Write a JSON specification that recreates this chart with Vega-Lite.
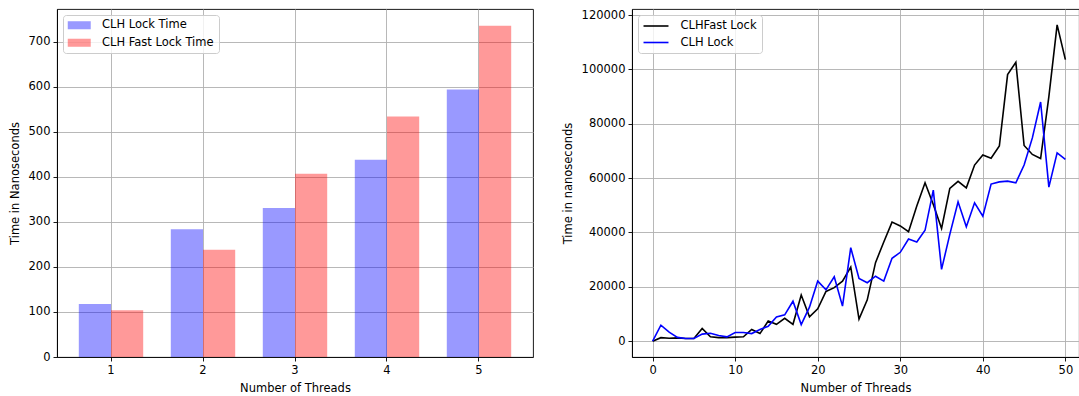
{
  "$schema": "https://vega.github.io/schema/vega-lite/v6.json",
  "background": "white",
  "padding": {"left": 8, "top": 8, "right": 0, "bottom": 0},
  "spacing": 99,
  "bounds": "flush",
  "resolve": {"scale": {"color": "independent"}, "legend": {"color": "independent"}},
  "config": {
    "font": "DejaVu Sans",
    "view": {"stroke": "black", "strokeWidth": 0.9},
    "axis": {
      "labelFont": "DejaVu Sans", "titleFont": "DejaVu Sans",
      "labelFontSize": 11.5, "titleFontSize": 11.5, "titleFontWeight": "normal",
      "labelColor": "black", "titleColor": "black",
      "tickColor": "black", "domainColor": "black", "domainWidth": 0.9,
      "tickSize": 4, "tickWidth": 0.9, "labelPadding": 3,
      "gridColor": "#b0b0b0", "gridWidth": 0.9, "gridOpacity": 1
    },
    "legend": {
      "orient": "top-left", "offset": 6, "padding": 4.5, "rowPadding": 4.5,
      "labelFont": "DejaVu Sans", "labelFontSize": 11.5, "labelColor": "black",
      "fillColor": "rgba(255,255,255,0.8)", "strokeColor": "#cccccc", "cornerRadius": 3
    }
  },
  "hconcat": [
    {
      "width": 476,
      "height": 348,
      "data": {"values": [
        {"threads": 1, "series": "CLH Lock Time", "time": 118},
        {"threads": 2, "series": "CLH Lock Time", "time": 284},
        {"threads": 3, "series": "CLH Lock Time", "time": 331},
        {"threads": 4, "series": "CLH Lock Time", "time": 438},
        {"threads": 5, "series": "CLH Lock Time", "time": 594},
        {"threads": 1, "series": "CLH Fast Lock Time", "time": 104},
        {"threads": 2, "series": "CLH Fast Lock Time", "time": 238},
        {"threads": 3, "series": "CLH Fast Lock Time", "time": 407},
        {"threads": 4, "series": "CLH Fast Lock Time", "time": 534},
        {"threads": 5, "series": "CLH Fast Lock Time", "time": 736}
      ]},
      "mark": {"type": "bar", "opacity": 0.4},
      "encoding": {
        "x": {
          "field": "threads", "type": "ordinal",
          "scale": {"paddingInner": 0.3, "paddingOuter": 0.237},
          "axis": {"labelAngle": 0, "grid": true, "bandPosition": 0.5, "title": "Number of Threads", "titlePadding": 7}
        },
        "xOffset": {"field": "series", "type": "nominal", "sort": ["CLH Lock Time", "CLH Fast Lock Time"]},
        "y": {
          "field": "time", "type": "quantitative",
          "scale": {"domain": [0, 773], "nice": false},
          "axis": {"values": [0, 100, 200, 300, 400, 500, 600, 700], "title": "Time in Nanoseconds", "titlePadding": 8}
        },
        "color": {
          "field": "series", "type": "nominal",
          "sort": ["CLH Lock Time", "CLH Fast Lock Time"],
          "scale": {"domain": ["CLH Lock Time", "CLH Fast Lock Time"], "range": ["#0000ff", "#ff0000"]},
          "legend": {"title": null, "symbolType": "M-2.09,-0.73L2.09,-0.73L2.09,0.73L-2.09,0.73Z", "symbolSize": 121, "symbolOffset": 6, "labelOffset": 17, "symbolOpacity": 0.4, "symbolStrokeWidth": 0}
        }
      }
    },
    {
      "width": 447,
      "height": 348,
      "data": {"values": [
        {"threads": 0, "series": "CLHFast Lock", "time": 0},
        {"threads": 1, "series": "CLHFast Lock", "time": 1300},
        {"threads": 2, "series": "CLHFast Lock", "time": 1100},
        {"threads": 3, "series": "CLHFast Lock", "time": 1200},
        {"threads": 4, "series": "CLHFast Lock", "time": 1000},
        {"threads": 5, "series": "CLHFast Lock", "time": 1000},
        {"threads": 6, "series": "CLHFast Lock", "time": 4700},
        {"threads": 7, "series": "CLHFast Lock", "time": 1600},
        {"threads": 8, "series": "CLHFast Lock", "time": 1300},
        {"threads": 9, "series": "CLHFast Lock", "time": 1300},
        {"threads": 10, "series": "CLHFast Lock", "time": 1500},
        {"threads": 11, "series": "CLHFast Lock", "time": 1600},
        {"threads": 12, "series": "CLHFast Lock", "time": 4300},
        {"threads": 13, "series": "CLHFast Lock", "time": 2800},
        {"threads": 14, "series": "CLHFast Lock", "time": 7400},
        {"threads": 15, "series": "CLHFast Lock", "time": 6200},
        {"threads": 16, "series": "CLHFast Lock", "time": 8400},
        {"threads": 17, "series": "CLHFast Lock", "time": 6200},
        {"threads": 18, "series": "CLHFast Lock", "time": 17000},
        {"threads": 19, "series": "CLHFast Lock", "time": 9000},
        {"threads": 20, "series": "CLHFast Lock", "time": 11900},
        {"threads": 21, "series": "CLHFast Lock", "time": 18300},
        {"threads": 22, "series": "CLHFast Lock", "time": 19700},
        {"threads": 23, "series": "CLHFast Lock", "time": 22100},
        {"threads": 24, "series": "CLHFast Lock", "time": 27300},
        {"threads": 25, "series": "CLHFast Lock", "time": 8100},
        {"threads": 26, "series": "CLHFast Lock", "time": 15200},
        {"threads": 27, "series": "CLHFast Lock", "time": 28900},
        {"threads": 28, "series": "CLHFast Lock", "time": 36500},
        {"threads": 29, "series": "CLHFast Lock", "time": 43800},
        {"threads": 30, "series": "CLHFast Lock", "time": 42400},
        {"threads": 31, "series": "CLHFast Lock", "time": 40300},
        {"threads": 32, "series": "CLHFast Lock", "time": 49700},
        {"threads": 33, "series": "CLHFast Lock", "time": 58300},
        {"threads": 34, "series": "CLHFast Lock", "time": 50300},
        {"threads": 35, "series": "CLHFast Lock", "time": 41500},
        {"threads": 36, "series": "CLHFast Lock", "time": 56200},
        {"threads": 37, "series": "CLHFast Lock", "time": 58800},
        {"threads": 38, "series": "CLHFast Lock", "time": 56400},
        {"threads": 39, "series": "CLHFast Lock", "time": 64800},
        {"threads": 40, "series": "CLHFast Lock", "time": 68500},
        {"threads": 41, "series": "CLHFast Lock", "time": 67300},
        {"threads": 42, "series": "CLHFast Lock", "time": 71800},
        {"threads": 43, "series": "CLHFast Lock", "time": 98100},
        {"threads": 44, "series": "CLHFast Lock", "time": 102600},
        {"threads": 45, "series": "CLHFast Lock", "time": 72000},
        {"threads": 46, "series": "CLHFast Lock", "time": 68700},
        {"threads": 47, "series": "CLHFast Lock", "time": 67200},
        {"threads": 48, "series": "CLHFast Lock", "time": 90000},
        {"threads": 49, "series": "CLHFast Lock", "time": 116400},
        {"threads": 50, "series": "CLHFast Lock", "time": 103600},
        {"threads": 0, "series": "CLH Lock", "time": 0},
        {"threads": 1, "series": "CLH Lock", "time": 5900},
        {"threads": 2, "series": "CLH Lock", "time": 3300},
        {"threads": 3, "series": "CLH Lock", "time": 1400},
        {"threads": 4, "series": "CLH Lock", "time": 1000},
        {"threads": 5, "series": "CLH Lock", "time": 1000},
        {"threads": 6, "series": "CLH Lock", "time": 2600},
        {"threads": 7, "series": "CLH Lock", "time": 2900},
        {"threads": 8, "series": "CLH Lock", "time": 2100},
        {"threads": 9, "series": "CLH Lock", "time": 1600},
        {"threads": 10, "series": "CLH Lock", "time": 3200},
        {"threads": 11, "series": "CLH Lock", "time": 3200},
        {"threads": 12, "series": "CLH Lock", "time": 2800},
        {"threads": 13, "series": "CLH Lock", "time": 4300},
        {"threads": 14, "series": "CLH Lock", "time": 5500},
        {"threads": 15, "series": "CLH Lock", "time": 8900},
        {"threads": 16, "series": "CLH Lock", "time": 9700},
        {"threads": 17, "series": "CLH Lock", "time": 14700},
        {"threads": 18, "series": "CLH Lock", "time": 6100},
        {"threads": 19, "series": "CLH Lock", "time": 12500},
        {"threads": 20, "series": "CLH Lock", "time": 22100},
        {"threads": 21, "series": "CLH Lock", "time": 18900},
        {"threads": 22, "series": "CLH Lock", "time": 23700},
        {"threads": 23, "series": "CLH Lock", "time": 12900},
        {"threads": 24, "series": "CLH Lock", "time": 34400},
        {"threads": 25, "series": "CLH Lock", "time": 23100},
        {"threads": 26, "series": "CLH Lock", "time": 21500},
        {"threads": 27, "series": "CLH Lock", "time": 23900},
        {"threads": 28, "series": "CLH Lock", "time": 22100},
        {"threads": 29, "series": "CLH Lock", "time": 30500},
        {"threads": 30, "series": "CLH Lock", "time": 32700},
        {"threads": 31, "series": "CLH Lock", "time": 37600},
        {"threads": 32, "series": "CLH Lock", "time": 36500},
        {"threads": 33, "series": "CLH Lock", "time": 40800},
        {"threads": 34, "series": "CLH Lock", "time": 55600},
        {"threads": 35, "series": "CLH Lock", "time": 26400},
        {"threads": 36, "series": "CLH Lock", "time": 39300},
        {"threads": 37, "series": "CLH Lock", "time": 51300},
        {"threads": 38, "series": "CLH Lock", "time": 42100},
        {"threads": 39, "series": "CLH Lock", "time": 50900},
        {"threads": 40, "series": "CLH Lock", "time": 46000},
        {"threads": 41, "series": "CLH Lock", "time": 57800},
        {"threads": 42, "series": "CLH Lock", "time": 58600},
        {"threads": 43, "series": "CLH Lock", "time": 58900},
        {"threads": 44, "series": "CLH Lock", "time": 58300},
        {"threads": 45, "series": "CLH Lock", "time": 64800},
        {"threads": 46, "series": "CLH Lock", "time": 74800},
        {"threads": 47, "series": "CLH Lock", "time": 88000},
        {"threads": 48, "series": "CLH Lock", "time": 56700},
        {"threads": 49, "series": "CLH Lock", "time": 69300},
        {"threads": 50, "series": "CLH Lock", "time": 66900}
      ]},
      "mark": {"type": "line", "strokeWidth": 1.6},
      "encoding": {
        "x": {
          "field": "threads", "type": "quantitative",
          "scale": {"domain": [-2.5, 51.65], "nice": false, "zero": false},
          "axis": {"values": [0, 10, 20, 30, 40, 50], "grid": true, "title": "Number of Threads", "titlePadding": 7}
        },
        "y": {
          "field": "time", "type": "quantitative",
          "scale": {"domain": [-5820, 122220], "nice": false, "zero": false},
          "axis": {"values": [0, 20000, 40000, 60000, 80000, 100000, 120000], "format": "d", "title": "Time in nanoseconds", "titlePadding": 8}
        },
        "color": {
          "field": "series", "type": "nominal",
          "sort": ["CLHFast Lock", "CLH Lock"],
          "scale": {"domain": ["CLHFast Lock", "CLH Lock"], "range": ["#000000", "#0000ff"]},
          "legend": {"title": null, "symbolType": "M-2.27,0L2.27,0", "symbolSize": 121, "symbolOffset": 7, "labelOffset": 18, "symbolStrokeWidth": 1.6}
        }
      }
    }
  ]
}
